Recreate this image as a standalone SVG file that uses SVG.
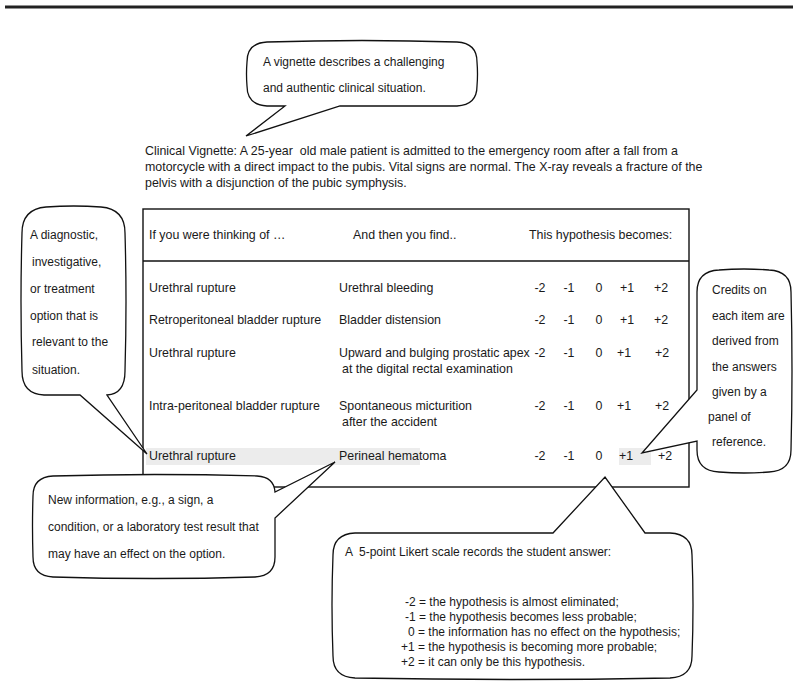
<svg xmlns="http://www.w3.org/2000/svg" width="793" height="684" viewBox="0 0 793 684">
<style>
text{font-family:"Liberation Sans",Arial,sans-serif;font-size:12px;fill:#1a1a1a;white-space:pre}
.big text,.big{font-size:12.4px}
.bub{fill:#fff;stroke:#111;stroke-width:1.3;stroke-linejoin:miter}
.tbl{fill:none;stroke:#111;stroke-width:1.4}
.hl{fill:#ececec}
.s{text-anchor:middle}
</style>
<rect width="793" height="684" fill="#fff"/>
<line x1="5" y1="7" x2="793" y2="7" stroke="#222" stroke-width="3"/>

<g id="vignette-text" class="big">
<text x="145" y="155">Clinical Vignette: A 25-year  old male patient is admitted to the emergency room after a fall from a</text>
<text x="145" y="171">motorcycle with a direct impact to the pubis. Vital signs are normal. The X-ray reveals a fracture of the</text>
<text x="145" y="187">pelvis with a disjunction of the pubic symphysis.</text>
</g>

<g id="table" class="big">
<rect class="tbl" x="143" y="209" width="546" height="278"/>
<line class="tbl" x1="143" y1="261" x2="689" y2="261"/>
<rect class="hl" x="146" y="448" width="274" height="17"/>
<rect class="hl" x="619" y="448" width="32" height="17"/>
<text x="149" y="239">If you were thinking of …</text>
<text x="353" y="239">And then you find..</text>
<text x="529" y="239">This hypothesis becomes:</text>

<text x="149" y="292">Urethral rupture</text>
<text x="339" y="292">Urethral bleeding</text>
<g class="s"><text x="540" y="292">-2</text><text x="569" y="292">-1</text><text x="599" y="292">0</text><text x="627" y="292">+1</text><text x="661" y="292">+2</text></g>

<text x="149" y="324">Retroperitoneal bladder rupture</text>
<text x="339" y="324">Bladder distension</text>
<g class="s"><text x="540" y="324">-2</text><text x="569" y="324">-1</text><text x="599" y="324">0</text><text x="627" y="324">+1</text><text x="661" y="324">+2</text></g>

<text x="149" y="357">Urethral rupture</text>
<text x="339" y="357">Upward and bulging prostatic apex</text>
<text x="342" y="373">at the digital rectal examination</text>
<g class="s"><text x="540" y="357">-2</text><text x="569" y="357">-1</text><text x="599" y="357">0</text><text x="624" y="357">+1</text><text x="662" y="357">+2</text></g>

<text x="149" y="410">Intra-peritoneal bladder rupture</text>
<text x="339" y="410">Spontaneous micturition</text>
<text x="342" y="426">after the accident</text>
<g class="s"><text x="540" y="410">-2</text><text x="569" y="410">-1</text><text x="599" y="410">0</text><text x="624" y="410">+1</text><text x="662" y="410">+2</text></g>

<text x="149" y="460">Urethral rupture</text>
<text x="339" y="460">Perineal hematoma</text>
<g class="s"><text x="540" y="460">-2</text><text x="569" y="460">-1</text><text x="599" y="460">0</text><text x="626" y="460">+1</text><text x="665" y="460">+2</text></g>
</g>

<g id="bubble-vignette">
<path class="bub" d="M267,42 Q362,39 457,42 Q477,43 477,62 Q478,74 477,86 Q477,105 457,106 H340 L246,136 L285,106 H267 Q247,105 247,86 Q246,74 247,62 Q247,43 267,42 Z"/>
<text x="263" y="66">A vignette describes a challenging</text>
<text x="263" y="92">and authentic clinical situation.</text>
</g>

<g id="bubble-option">
<path class="bub" d="M46,207 Q74,205 101,207 Q125,209 125,233 Q127,301 125,371 Q125,394 107,395 L147,454 L80,395 H44 Q22,394 22,371 Q20,301 22,233 Q22,209 46,207 Z"/>
<text x="30" y="239">A diagnostic,</text>
<text x="32" y="266">investigative,</text>
<text x="30" y="293">or treatment</text>
<text x="30" y="320">option that is</text>
<text x="32" y="346">relevant to the</text>
<text x="32" y="374">situation.</text>
</g>

<g id="bubble-credits">
<path class="bub" d="M719,270 Q744,268 769,270 Q791,271 791,292 Q793,371 791,450 Q791,471 769,472 Q744,474 719,472 Q697,471 697,450 V441 L642,453 L697,390 V292 Q697,271 719,270 Z"/>
<text x="712" y="294">Credits on</text>
<text x="712" y="320">each item are</text>
<text x="712" y="345">derived from</text>
<text x="712" y="371">the answers</text>
<text x="712" y="396">given by a</text>
<text x="708" y="421">panel of</text>
<text x="712" y="446">reference.</text>
</g>

<g id="bubble-info">
<path class="bub" d="M53,476 Q154,473 257,476 Q274,477 275,492 L335,462 L275,518 V557 Q275,576 255,577 Q154,580 53,577 Q33,576 33,557 Q32,526 33,496 Q33,477 53,476 Z"/>
<text x="48" y="504">New information, e.g., a sign, a</text>
<text x="48" y="531">condition, or a laboratory test result that</text>
<text x="48" y="558">may have an effect on the option.</text>
</g>

<g id="bubble-likert">
<path class="bub" d="M355,533 H553 L605,477 L645,533 H670 Q692,534 692,555 Q694,605 692,656 Q692,677 670,678 Q512,681 355,678 Q333,677 333,656 Q331,605 333,555 Q333,534 355,533 Z"/>
<text x="345" y="556">A  5-point Likert scale records the student answer:</text>
<text x="405" y="606">-2 = the hypothesis is almost eliminated;</text>
<text x="405" y="621">-1 = the hypothesis becomes less probable;</text>
<text x="408" y="636">0 = the information has no effect on the hypothesis;</text>
<text x="401" y="651">+1 = the hypothesis is becoming more probable;</text>
<text x="401" y="666">+2 = it can only be this hypothesis.</text>
</g>

<g id="connectors"></g>
</svg>
